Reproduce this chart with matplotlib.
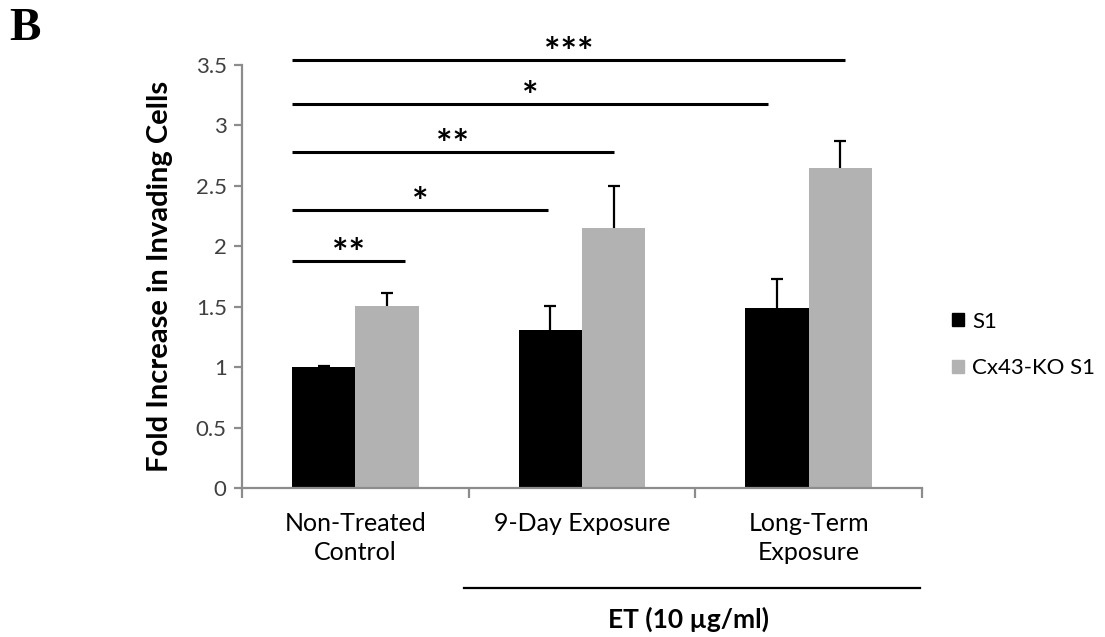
import matplotlib
matplotlib.use("Agg")
import matplotlib.pyplot as plt
from matplotlib.patches import Patch
from matplotlib.transforms import blended_transform_factory
import numpy as np

plt.rcParams["font.family"] = ["Lato", "DejaVu Sans"]

# data
categories = ["Non-Treated\nControl", "9-Day Exposure", "Long-Term\nExposure"]
series_names = ["S1", "Cx43-KO S1"]
s1_values = [1.00, 1.31, 1.49]
s1_err = [0.01, 0.20, 0.24]
ko_values = [1.51, 2.15, 2.65]
ko_err = [0.10, 0.35, 0.22]

# significance brackets: (x start, x end, height, label)
sig_x0 = [-0.28, -0.28, -0.28, -0.28, -0.28]
sig_x1 = [0.22, 0.85, 1.14, 1.82, 2.16]
sig_y = [1.88, 2.30, 2.78, 3.18, 3.54]
sig_labels = ["**", "*", "**", "*", "***"]

yticks = [0, 0.5, 1, 1.5, 2, 2.5, 3, 3.5]
ytick_labels = ["0", "0.5", "1", "1.5", "2", "2.5", "3", "3.5"]

BLACK = "#000000"
GREY = "#b2b2b2"
AXIS = "#8c8c8c"
TEXT = "#404040"

W, H = 1105, 637
fig = plt.figure(figsize=(W / 100, H / 100), dpi=100)
ax = fig.add_axes([242 / W, 1 - 488 / H, 680 / W, 423 / H])

x = np.arange(len(categories))
bw = 0.28
err_kw = dict(ecolor="black", elinewidth=1.6, capsize=4.5, capthick=1.6)
b1 = ax.bar(x - bw / 2, s1_values, bw, color=BLACK, label=series_names[0],
            yerr=[np.zeros(len(x)), s1_err], error_kw=err_kw, zorder=2)
b2 = ax.bar(x + bw / 2, ko_values, bw, color=GREY, label=series_names[1],
            yerr=[np.zeros(len(x)), ko_err], error_kw=err_kw, zorder=2)
# one-sided error bars: hide the cap sitting on the bar top
for bars in (b1, b2):
    bars.errorbar.lines[1][0].set_visible(False)

ax.set_xlim(-0.5, 2.5)
ax.set_ylim(0, 3.5)
ax.set_yticks(yticks)
ax.set_yticklabels(ytick_labels)
ax.set_xticks(x)
ax.set_xticklabels(categories, linespacing=1.35)
ax.set_xticks([-0.5, 0.5, 1.5, 2.5], minor=True)

for side in ["top", "right"]:
    ax.spines[side].set_visible(False)
for side in ["left", "bottom"]:
    ax.spines[side].set_color(AXIS)
    ax.spines[side].set_linewidth(1.6)

ax.tick_params(axis="y", direction="out", length=6, width=1.6, color=AXIS,
               labelsize=16, labelcolor=TEXT, pad=5)
ax.tick_params(axis="x", which="major", length=0, labelsize=18,
               labelcolor="black", pad=17)
ax.tick_params(axis="x", which="minor", direction="out", length=7,
               width=1.6, color=AXIS)

# significance bars
for x0, x1, y, lab in zip(sig_x0, sig_x1, sig_y, sig_labels):
    ax.plot([x0, x1], [y, y], color="black", lw=2.2, clip_on=False,
            solid_capstyle="butt")
    ax.text((x0 + x1) / 2, y - 0.04, lab, ha="center", va="baseline",
            fontsize=28, fontweight="bold", clip_on=False)

# treatment bracket under the two exposure groups
tr = blended_transform_factory(ax.transData, ax.transAxes)
ax.plot([0.48, 2.49], [-0.236, -0.236], color="black", lw=1.6,
        transform=tr, clip_on=False)
ax.text(1.47, -0.331, "ET (10 µg/ml)", transform=tr, ha="center",
        va="baseline", fontsize=19, fontweight="bold")

fig.text(160 / W, 1 - 276 / H, "Fold Increase in Invading Cells",
         rotation=90, ha="center", va="center", fontsize=21,
         fontweight="bold")

fig.text(9 / W, 1 - 29 / H, "B", ha="left", va="center", fontsize=34,
         fontweight="bold", family="Liberation Serif")

handles = [Patch(color=BLACK), Patch(color=GREY)]
fig.legend(handles, series_names, loc="center left",
           bbox_to_anchor=(952 / W, 1 - 345 / H), frameon=False,
           borderpad=0, borderaxespad=0,
           fontsize=16, handlelength=0.55, handleheight=0.55,
           handletextpad=0.35, labelspacing=1.2, labelcolor="black")

fig.savefig("out.png", dpi=100)
